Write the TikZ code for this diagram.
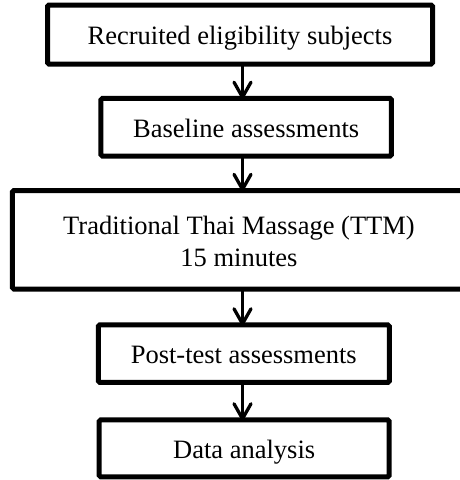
\documentclass[tikz,border=0pt]{standalone}
\usepackage{fontspec}
\setmainfont{Liberation Serif}
\usetikzlibrary{arrows.meta}
\begin{document}
\begin{tikzpicture}[x=1pt,y=-1pt,
  box/.style={draw=black,line width=5pt,rounded corners=1.5pt,fill=white,
    inner sep=0pt,outer sep=0pt,font=\fontsize{26.5}{32.7}\selectfont,
    text height=19.6pt,text depth=0pt,align=center},
  arr/.style={draw=black,line width=3.3pt,
    -{Straight Barb[length=15pt,width=17pt,line cap=round,line join=round]}}]
\useasboundingbox (0,0) rectangle (460,480);
\node[box,minimum width=385pt,minimum height=59pt] (b1) at (240,34.5) {Recruited eligibility subjects};
\node[box,minimum width=290.5pt,minimum height=57.7pt] (b2) at (246.2,127.2) {Baseline assessments};
\node[box,minimum width=453.2pt,minimum height=98.5pt,text height=53.9pt,text depth=0pt] (b3) at (239,239.75) {Traditional Thai Massage (TTM)\\15 minutes};
\node[box,minimum width=291pt,minimum height=57.5pt] (b4) at (243.8,353.7) {Post-test assessments};
\node[box,minimum width=290pt,minimum height=57pt] (b5) at (244.2,448.4) {Data analysis};
\coordinate (ax) at (242.5,0);
\draw[arr] (b1.south -| ax) -- ([yshift=-0.5pt]b2.north -| ax);
\draw[arr] (b2.south -| ax) -- ([yshift=-0.5pt]b3.north -| ax);
\draw[arr] (b3.south -| ax) -- ([yshift=-0.5pt]b4.north -| ax);
\draw[arr] (b4.south -| ax) -- ([yshift=-0.5pt]b5.north -| ax);
\end{tikzpicture}
\end{document}
